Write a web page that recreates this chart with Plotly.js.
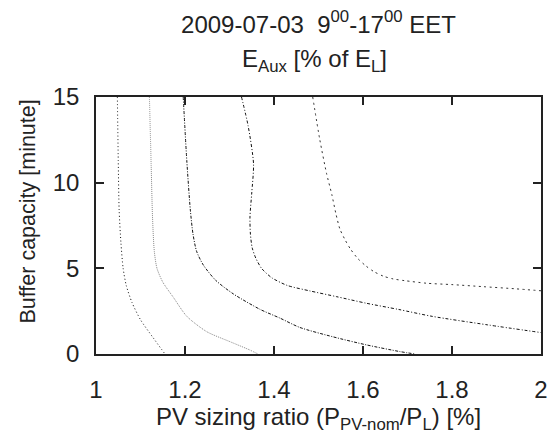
<!DOCTYPE html>
<html>
<head>
<meta charset="utf-8">
<script src="https://cdn.plot.ly/plotly-3.0.1.min.js"></script>
<style>html,body{margin:0;padding:0;background:#fff;}#chart{width:554px;height:438px;}</style>
</head>
<body>
<div id="chart"></div>
<script>
// Contour lines of E_Aux [% of E_L] (levels unlabeled in the reference)
var c1x = [1.048, 1.050, 1.052, 1.056, 1.061, 1.068, 1.081, 1.100, 1.127, 1.155];
var c1y = [15, 11.3, 8.4, 6.5, 5.0, 4.0, 3.0, 2.0, 1.0, 0];

var c2x = [1.120, 1.124, 1.127, 1.131, 1.137, 1.150, 1.174, 1.204, 1.249, 1.301, 1.346, 1.364];
var c2y = [15, 11, 8, 6, 5, 4.2, 3.3, 2.2, 1.3, 0.72, 0.23, 0];

var c3x = [1.196, 1.204, 1.212, 1.218, 1.226, 1.241, 1.269, 1.309, 1.369, 1.413, 1.458, 1.533, 1.608, 1.683, 1.717];
var c3y = [15, 11.3, 8.4, 7.0, 6.0, 5.2, 4.3, 3.5, 2.6, 2.1, 1.55, 1.0, 0.53, 0.14, 0];

var c4x = [1.327, 1.342, 1.354, 1.350, 1.346, 1.347, 1.351, 1.359, 1.372, 1.395, 1.430, 1.481, 1.540, 1.608, 1.680, 1.755, 1.880, 2.000];
var c4y = [15, 13.3, 11.1, 9.4, 8.0, 7.0, 6.2, 5.6, 5.0, 4.45, 4.0, 3.68, 3.35, 2.96, 2.6, 2.2, 1.7, 1.25];

var c5x = [1.487, 1.503, 1.518, 1.530, 1.539, 1.548, 1.560, 1.572, 1.588, 1.606, 1.625, 1.646, 1.668, 1.694, 1.743, 1.800, 1.870, 1.940, 2.000];
var c5y = [15, 12.5, 10.55, 9.3, 8.2, 7.3, 6.65, 6.12, 5.58, 5.15, 4.80, 4.54, 4.38, 4.28, 4.13, 4.05, 3.93, 3.81, 3.69];

var xTicks = [1, 1.2, 1.4, 1.6, 1.8, 2];
var xTickText = ['1', '1.2', '1.4', '1.6', '1.8', '2'];
var yTicks = [0, 5, 10, 15];
var yTickText = ['0', '5', '10', '15'];

var FONT = 'Liberation Sans';
var TXT = '#222';

function contour(x, y, color, dash) {
  return {x: x, y: y, type: 'scatter', mode: 'lines', hoverinfo: 'skip',
    line: {color: color, width: 1, dash: dash, shape: 'spline', smoothing: 0.7}};
}

var data = [
  contour(c1x, c1y, '#111', '1px,2.5px'),
  contour(c2x, c2y, '#888', '1px,1px'),
  contour(c3x, c3y, '#111', '3px,1.5px,1px,1.5px'),
  contour(c4x, c4y, '#111', '3px,2px,1px,2px'),
  contour(c5x, c5y, '#333', '2px,3.5px')
];

var axisCommon = {
  showline: true, linecolor: '#222', linewidth: 1.5, mirror: 'ticks',
  ticks: 'inside', ticklen: 8, tickwidth: 1.5, tickcolor: '#222',
  showgrid: false, zeroline: false,
  tickfont: {family: FONT, size: 24, color: TXT},
  ticklabelstandoff: 10
};

var layout = {
  width: 554, height: 438,
  margin: {l: 96, r: 13, t: 97, b: 84},
  paper_bgcolor: '#fff', plot_bgcolor: '#fff',
  showlegend: false,
  font: {family: FONT, color: TXT},
  title: {
    text: '2009-07-03\u00a0\u00a09<sup>00</sup>-17<sup>00</sup> EET',
    font: {family: FONT, size: 24, color: TXT},
    xref: 'paper', x: 0.5, xanchor: 'center',
    yref: 'container', y: 0.964, yanchor: 'top'
  },
  xaxis: Object.assign({}, axisCommon, {
    range: [1, 2], tickvals: xTicks, ticktext: xTickText,
    ticklabelstandoff: 13,
    title: {text: 'PV sizing ratio (P<sub>PV-nom</sub>/P<sub>L</sub>) [%]',
      font: {family: FONT, size: 24, color: TXT}, standoff: 2}
  }),
  yaxis: Object.assign({}, axisCommon, {
    range: [0, 15], tickvals: yTicks, ticktext: yTickText
  }),
  annotations: [
    {text: 'E<sub>Aux</sub> [% of E<sub>L</sub>]', xref: 'paper', yref: 'paper',
     x: 0.49, y: 1.072, xanchor: 'center', yanchor: 'bottom', showarrow: false,
     font: {family: FONT, size: 24, color: TXT}},
    {text: 'Buffer capacity [minute]', xref: 'paper', yref: 'paper',
     x: -0.153, y: 0.554, xanchor: 'center', yanchor: 'middle', textangle: -90,
     showarrow: false, font: {family: FONT, size: 21.5, color: TXT}}
  ]
};

Plotly.newPlot('chart', data, layout, {displayModeBar: false});
</script>
</body>
</html>
